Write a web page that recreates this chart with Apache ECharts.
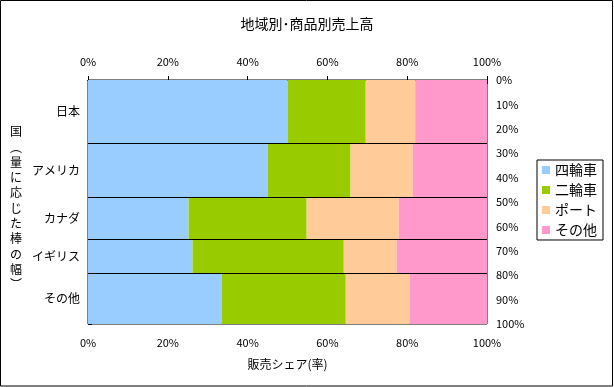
<!DOCTYPE html>
<html>
<head>
<meta charset="utf-8">
<script src="https://cdn.jsdelivr.net/npm/echarts@6/dist/echarts.min.js"></script>
<style>
html,body{margin:0;padding:0;background:#fff;}
#c{width:614px;height:387px;}
</style>
</head>
<body>
<div id="c"></div>
<script>
// ---- data ----
const categories = ['日本', 'アメリカ', 'カナダ', 'イギリス', 'その他'];
const rowHeights = [25.8, 22.3, 17.2, 13.9, 20.8];   // % of total (bar width)
const seriesNames = ['四輪車', '二輪車', 'ポート', 'その他'];
const share4w   = [50.0, 45.0, 25.2, 26.2, 33.5];
const share2w   = [19.6, 20.8, 29.6, 37.9, 31.1];
const shareBoat = [12.4, 15.6, 23.1, 13.3, 16.0];
const shareOth  = [18.0, 18.6, 22.1, 22.6, 19.4];
const xTicks = [0, 20, 40, 60, 80, 100];
const yTicks = [0, 10, 20, 30, 40, 50, 60, 70, 80, 90, 100];

const colors = ['#99CCFF', '#99CC00', '#FFCC99', '#FF99CC'];
const FONT = '"Noto Sans CJK JP", "Noto Sans", sans-serif';
const shares = [share4w, share2w, shareBoat, shareOth];

// cumulative row boundaries
const rowStart = [];
let acc = 0;
rowHeights.forEach(h => { rowStart.push(acc); acc += h; });

function rectRender(params, api) {
  const x0 = api.value(0), x1 = api.value(1), y0 = api.value(2), y1 = api.value(3);
  const p0 = api.coord([x0, y0]);
  const p1 = api.coord([x1, y1]);
  return {
    type: 'rect',
    shape: { x: Math.min(p0[0], p1[0]), y: Math.min(p0[1], p1[1]),
             width: Math.abs(p1[0] - p0[0]), height: Math.abs(p1[1] - p0[1]) },
    style: { fill: api.visual('color') }
  };
}

const series = seriesNames.map((name, si) => {
  const data = categories.map((c, ri) => {
    let x0 = 0;
    for (let k = 0; k < si; k++) x0 += shares[k][ri];
    return [x0, x0 + shares[si][ri], rowStart[ri], rowStart[ri] + rowHeights[ri]];
  });
  return {
    type: 'custom', name, renderItem: rectRender,
    itemStyle: { color: colors[si] },
    encode: { x: [0, 1], y: [2, 3] },
    data
  };
});

// row separator lines
series.push({
  type: 'custom', name: 'sep', silent: true, legendHoverLink: false,
  renderItem: (params, api) => {
    const a = api.coord([0, api.value(0)]);
    const b = api.coord([100, api.value(0)]);
    return { type: 'line', shape: { x1: a[0], y1: Math.round(a[1]) + 0.5, x2: b[0], y2: Math.round(b[1]) + 0.5 },
             style: { stroke: '#000', lineWidth: 1 } };
  },
  encode: { x: -1, y: 0 },
  data: rowStart.slice(1).map(v => [v]),
  z: 5
});

// category labels at row centres
series.push({
  type: 'custom', name: 'cat', silent: true, clip: false,
  renderItem: (params, api) => {
    const p = api.coord([0, api.value(0)]);
    return { type: 'text', x: p[0] - 8, y: p[1],
             style: { text: categories[params.dataIndex], align: 'right', verticalAlign: 'middle',
                      fontSize: 12, fontFamily: FONT, fill: '#000' } };
  },
  encode: { x: -1, y: 0 },
  data: rowStart.map((s, i) => [s + rowHeights[i] / 2]),
  z: 6
});

const axisLabelStyle = { color: '#000', fontSize: 11, fontFamily: FONT };

const option = {
  animation: false,
  backgroundColor: '#fff',
  color: colors,
  title: {
    text: '地域別･商品別売上高', left: 'center', top: 12,
    textStyle: { fontSize: 14, fontWeight: 'normal', color: '#000', fontFamily: FONT }
  },
  legend: {
    data: seriesNames, orient: 'vertical', left: 537, top: 160,
    icon: 'rect', itemWidth: 8, itemHeight: 8, itemGap: 6,
    padding: [3, 6, 3, 5], borderColor: '#000', borderWidth: 1,
    textStyle: { fontSize: 14, color: '#000', fontFamily: FONT }
  },
  grid: { left: 88, top: 80, right: 127, bottom: 63, show: true, borderColor: '#000', borderWidth: 1, backgroundColor: '#fff' },
  xAxis: [
    { type: 'value', position: 'bottom', min: 0, max: 100, interval: 20,
      axisLine: { show: true, lineStyle: { color: '#000' } },
      axisTick: { show: true, inside: true, length: 4, lineStyle: { color: '#000' } },
      axisLabel: { formatter: '{value}%', margin: 13, ...axisLabelStyle },
      splitLine: { show: false },
      name: '販売シェア(率)', nameLocation: 'middle', nameGap: 34,
      nameTextStyle: { fontSize: 12, color: '#000', fontFamily: FONT } },
    { type: 'value', position: 'top', min: 0, max: 100, interval: 20,
      axisLine: { show: true, lineStyle: { color: '#000' } },
      axisTick: { show: true, inside: true, length: 4, lineStyle: { color: '#000' } },
      axisLabel: { formatter: '{value}%', margin: 13, ...axisLabelStyle },
      splitLine: { show: false } }
  ],
  yAxis: [
    { type: 'value', position: 'right', min: 0, max: 100, interval: 10, inverse: true,
      axisLine: { show: true, lineStyle: { color: '#000' } },
      axisTick: { show: true, inside: false, length: 4, lineStyle: { color: '#000' } },
      axisLabel: { formatter: '{value}%', margin: 9, align: 'left', ...axisLabelStyle },
      splitLine: { show: false } }
  ],
  graphic: [
    { type: 'text', left: 10, top: 124,
      style: { text: '国\n︵\n量\nに\n応\nじ\nた\n棒\nの\n幅\n︶', fontSize: 12, lineHeight: 15.3,
               fontFamily: FONT, fill: '#000', align: 'center' } },
    { type: 'rect', shape: { x: 0.5, y: 0.5, width: 612, height: 385.5 },
      style: { fill: 'none', stroke: '#000', lineWidth: 1 }, z: 100 }
  ],
  series
};

const chart = echarts.init(document.getElementById('c'), null, { renderer: 'canvas' });
chart.setOption(option);
</script>
</body>
</html>
